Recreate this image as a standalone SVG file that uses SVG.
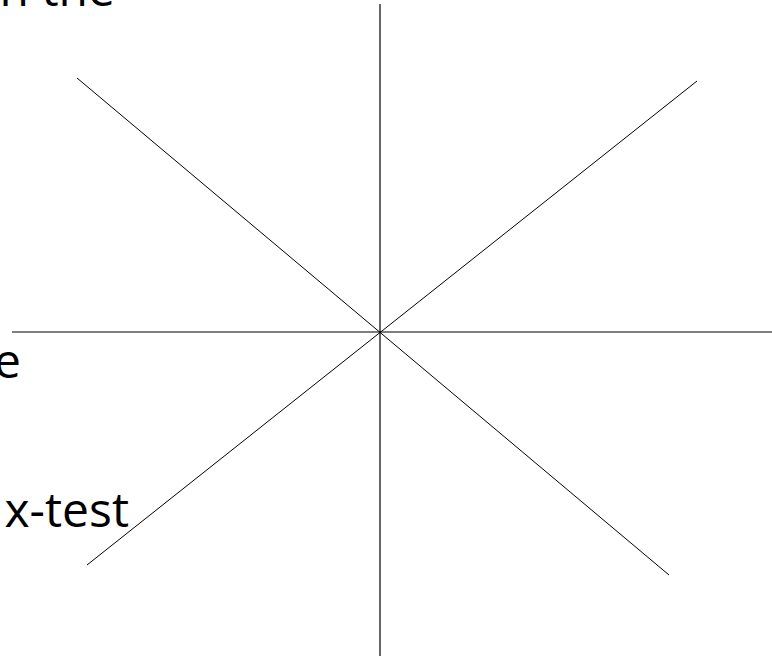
<svg xmlns="http://www.w3.org/2000/svg" width="772" height="659" viewBox="0 0 772 659">
<style>
.ln{stroke:#000;stroke-width:1;fill:none}
.ax{stroke:#000;stroke-width:1.2;fill:none}
.tx{font-family:"Open Sans","Liberation Sans",sans-serif;font-size:48px;fill:#000;text-anchor:end}
</style>
<rect width="772" height="659" fill="#fff"/>
<g id="labels">
<text class="tx" x="115" y="6">n the</text>
<text class="tx" x="21" y="378">e</text>
<text class="tx" x="129" y="527">x-test</text>
</g>
<g id="lines">
<line class="ax" x1="380" y1="4" x2="380" y2="656"/>
<line class="ax" x1="12" y1="332" x2="772" y2="332"/>
<line class="ln" x1="77" y1="78" x2="669" y2="575"/>
<line class="ln" x1="697" y1="81" x2="87" y2="565"/>
</g>
</svg>
